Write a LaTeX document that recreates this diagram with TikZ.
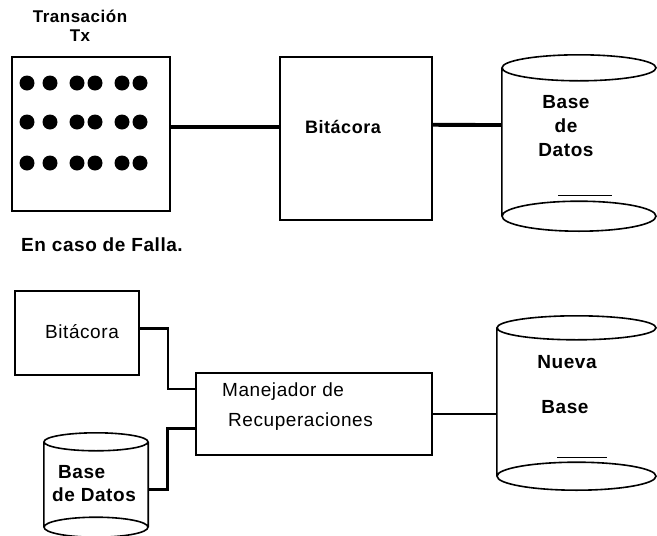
\documentclass[tikz,border=0pt]{standalone}
\usepackage{fontspec}
\setmainfont{Liberation Sans}[LetterSpace=3]
\usetikzlibrary{calc}

\begin{document}
\begin{tikzpicture}[x=1pt, y=-1pt,
  box/.style={draw, line width=1.6pt, inner sep=0pt},
  dbb/.style={inner sep=0pt},
  edge/.style={line width=1.6pt},
  lnk/.style={line width=2.6pt},
  tlnk/.style={line width=3.8pt},
  txt/.style={inner sep=0pt, font=\fontsize{19}{24}\selectfont\bfseries},
  rtxt/.style={inner sep=0pt, font=\fontsize{19}{24}\selectfont}
]
\useasboundingbox (0,0) rectangle (657,536);

% transaccion y bitacora
\node[txt, font=\fontsize{17}{20}\selectfont\bfseries] (ttl) at (80,16) {Transación};
\node[txt, font=\fontsize{17}{20}\selectfont\bfseries] (ttl2) at (80,36) {Tx};
\node[box, minimum width=158pt, minimum height=154pt] (tx) at (91,134) {};
\foreach \yy in {83,122,163}
  \foreach \xx in {27,50,77,95,122,140}
    \fill (\xx,\yy) circle (7.5pt);

\node[box, minimum width=152pt, minimum height=163pt] (bit1) at (356,138.5) {};
\node[txt, font=\fontsize{18}{22}\selectfont\bfseries] (bit1t) at (343,127) {Bitácora};

\node[dbb, minimum width=154pt, minimum height=148pt] (db1) at (579,142) {};
\draw[edge] (db1.north) ellipse [x radius=77pt, y radius=13pt]
  (db1.south) ellipse [x radius=77pt, y radius=15pt]
  (db1.north west) -- (db1.south west);
\draw[line width=1pt] (558,195) -- (612,195);
\node[txt, align=center] (db1t) at (566,126) {Base\\de\\Datos};

\draw[tlnk] ($(tx.north east)!0.455!(tx.south east)$) -- ($(bit1.north west)!0.43!(bit1.south west)$);
\draw[tlnk] ($(bit1.north east)!0.417!(bit1.south east)$) -- ($(db1.north west)!0.385!(db1.south west)$);

\node[txt, anchor=west] (falla) at (21,245) {En caso de Falla.};

% recuperacion
\node[box, minimum width=124pt, minimum height=84pt] (bit2) at (77,333) {};
\node[rtxt] (bit2t) at (82,332) {Bitácora};

\node[box, minimum width=236pt, minimum height=82pt] (man) at (314,414) {};
\node[rtxt, anchor=west] (man1) at (222,392) {Manejador de};
\node[rtxt, anchor=west] (man2) at (228,422) {Recuperaciones};

\node[dbb, minimum width=104pt, minimum height=85pt] (db2) at (96,484.5) {};
\draw[edge] (db2.north) ellipse [x radius=52pt, y radius=9pt]
  (db2.south) ellipse [x radius=52pt, y radius=10pt]
  (db2.north west) -- (db2.south west)
  (db2.north east) -- (db2.south east);
\node[txt, anchor=west] (db2a) at (58,472) {Base};
\node[txt, anchor=west] (db2b) at (52,495) {de Datos};

\node[dbb, minimum width=159pt, minimum height=148pt] (db3) at (576.5,402) {};
\draw[edge] (db3.north) ellipse [x radius=79.5pt, y radius=12pt]
  (db3.south) ellipse [x radius=79.5pt, y radius=14pt]
  (db3.north west) -- (db3.south west);
\draw[line width=1pt] (557,457) -- (607,457);
\node[txt] (db3a) at (567,362) {Nueva};
\node[txt] (db3b) at (565,407) {Base};

\draw[lnk] ($(bit2.north east)!0.45!(bit2.south east)$) -- ++(28,0) |- ($(man.north west)!0.2!(man.south west)$);
\draw[lnk] ($(man.north west)!0.67!(man.south west)$) -- ++(-28,0) |- ($(db2.north east)!0.56!(db2.south east)$);
\draw[lnk] (man.east) -- (man.east -| db3.west);
\end{tikzpicture}
\end{document}
